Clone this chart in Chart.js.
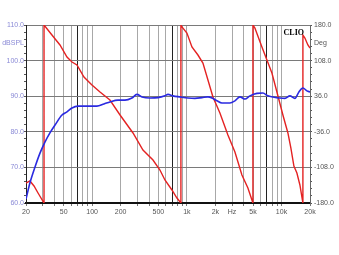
<!DOCTYPE html>
<html>
<head>
<meta charset="utf-8">
<script src="https://cdn.jsdelivr.net/npm/chart.js@4/dist/chart.umd.min.js"></script>
<style>
  html, body { margin: 0; padding: 0; background: #fff; }
  canvas { display: block; }
</style>
</head>
<body>
<canvas id="clio" width="339" height="255"></canvas>
<script>
// magnitude (blue, dBSPL, left axis)
const magFreq = [20, 22, 24.9, 28.1, 31.7, 35.8, 40.5, 48, 54.2, 61.2,
    70.8, 94.8, 112, 133, 154, 187, 222, 263, 297, 336,
    408, 495, 587, 632, 713, 846, 1027, 1218, 1444, 1671,
    1841, 2080, 2348, 2853, 3221, 3638, 4108, 4638, 5498, 6364,
    7186, 8114, 9622, 10866, 12270, 13854, 15268, 16828, 18552, 20000];
const magDb = [61.1, 65.6, 70.1, 74.0, 77.1, 79.7, 81.9, 84.7, 85.6, 86.7,
    87.2, 87.2, 87.2, 87.8, 88.4, 88.9, 88.9, 89.5, 90.5, 89.8,
    89.5, 89.6, 90.1, 90.5, 90.1, 89.8, 89.5, 89.4, 89.6, 89.8,
    89.5, 88.7, 88.1, 88.1, 88.7, 89.8, 89.2, 90.1, 90.8, 90.9,
    90.1, 89.8, 89.5, 89.4, 90.1, 89.4, 91.2, 92.3, 91.5, 91.2];

// phase (red, Deg, right axis) - wrapped, so repeated freqs make the vertical jumps
const phaseFreq = [20, 22, 24.3, 26.8, 31, 31, 37.6, 45.7, 54.2, 61.2,
    69.1, 81.9, 99.5, 121, 154, 197, 270, 344, 439, 520,
    587, 696, 786, 866, 866, 888, 1002, 1132, 1310, 1479,
    1671, 1887, 2236, 2716, 3221, 3818, 4418, 4990, 4990, 5238,
    6212, 7014, 7920, 8944, 10346, 11686, 12568, 13520, 14544, 15646,
    16828, 16828, 17668, 19000, 20000];
const phaseDeg = [-139.6, -135.5, -145.6, -159.8, -180, 180, 159.8, 139.6, 115.3, 105.2,
    99.1, 74.8, 58.6, 44.5, 28.3, -2, -38.4, -72.8, -93, -113.3,
    -133.5, -153.7, -169.9, -180, 180, 176, 163.8, 135.5, 119.3, 103.1,
    68.8, 34.4, 2, -42.5, -76.9, -123.4, -149.7, -180, 180, 173.9,
    135.5, 109.2, 82.9, 44.5, -2, -38.4, -68.8, -105.2, -119.3, -143.6,
    -180, 159.8, 153.7, 139.6, 133.5];

// axes
const freqGrid = [20, 30, 40, 50, 60, 70, 80, 90, 100, 200, 300, 400, 500, 600, 700, 800, 900,
    1000, 2000, 3000, 4000, 5000, 6000, 7000, 8000, 9000, 10000, 20000];
const freqLabels = { 20: '20', 50: '50', 100: '100', 200: '200', 500: '500', 1000: '1k',
    2000: '2k', 3000: 'Hz', 5000: '5k', 10000: '10k', 20000: '20k' };
const darkFreqLines = [70, 700, 7000];
const dbMajor = [60, 70, 80, 90, 100, 110];
const dbUnitAt = 105;      // where "dBSPL" sits
const degMajor = [-180, -108, -36, 36, 108, 180];
const degUnitAt = 144;     // where "Deg" sits

const magPts = magFreq.map((f, i) => ({ x: f, y: magDb[i] }));
const phasePts = phaseFreq.map((f, i) => ({ x: f, y: phaseDeg[i] }));

// minor tick marks on the two value axes
const dbTicks = [];
for (let v = 60; v <= 110; v += 2) dbTicks.push(v);
dbTicks.push(dbUnitAt);
const degTicks = [];
for (let k = 0; k <= 25; k++) degTicks.push(Math.round((-180 + k * 14.4) * 10) / 10);
degTicks.push(degUnitAt);

const clioMark = {
    id: 'clioMark',
    afterDraw(chart) {
        const c = chart.ctx;
        c.save();
        c.font = 'bold 8px "Liberation Serif"';
        c.fillStyle = '#000';
        c.textAlign = 'right';
        c.textBaseline = 'middle';
        c.fillText('CLIO', chart.chartArea.right - 6, 33);
        c.restore();
    }
};

const tickFont = { family: 'Liberation Sans', size: 7 };

new Chart(document.getElementById('clio').getContext('2d'), {
    type: 'line',
    data: {
        datasets: [
            {
                data: magPts,
                yAxisID: 'y',
                borderColor: '#2a2ae0',
                borderWidth: 1.6,
                pointRadius: 0,
                cubicInterpolationMode: 'monotone'
            },
            {
                data: phasePts,
                yAxisID: 'y1',
                borderColor: '#e42222',
                borderWidth: 1.4,
                pointRadius: 0,
                tension: 0
            }
        ]
    },
    options: {
        responsive: false,
        animation: false,
        layout: { padding: { top: 25, left: 0, right: 0, bottom: 0 } },
        plugins: { legend: { display: false }, tooltip: { enabled: false } },
        scales: {
            x: {
                type: 'logarithmic',
                min: 20,
                max: 20000,
                afterBuildTicks: s => { s.ticks = freqGrid.map(v => ({ value: v })); },
                afterFit: s => { s.height = 52; },
                ticks: {
                    autoSkip: false,
                    maxRotation: 0,
                    padding: 2,
                    color: '#555',
                    font: tickFont,
                    callback: v => freqLabels[v] || ''
                },
                grid: {
                    color: ctx => darkFreqLines.includes(ctx.tick && ctx.tick.value) ? '#222' : '#a8a8a8',
                    tickColor: '#777',
                    tickLength: 3,
                    lineWidth: 1
                },
                border: { color: '#111', width: 2 }
            },
            y: {
                position: 'left',
                min: 60,
                max: 110,
                afterBuildTicks: s => { s.ticks = dbTicks.slice().sort((a, b) => a - b).map(v => ({ value: v })); },
                afterFit: s => { s.width = 26; },
                ticks: {
                    autoSkip: false,
                    padding: 0,
                    color: '#8a8ad6',
                    font: tickFont,
                    callback: v => dbMajor.includes(v) ? v.toFixed(1) : (v === dbUnitAt ? 'dBSPL' : '')
                },
                grid: {
                    color: ctx => {
                        const v = ctx.tick && ctx.tick.value;
                        if (v === 60) return '#111';
                        return dbMajor.includes(v) ? '#7a7a7a' : 'rgba(0,0,0,0)';
                    },
                    tickColor: ctx => (ctx.tick && ctx.tick.value === dbUnitAt) ? 'rgba(0,0,0,0)' : '#555',
                    tickLength: 2,
                    lineWidth: 1
                },
                border: { color: '#222', width: 1 }
            },
            y1: {
                position: 'right',
                min: -180,
                max: 180,
                afterBuildTicks: s => { s.ticks = degTicks.slice().sort((a, b) => a - b).map(v => ({ value: v })); },
                afterFit: s => { s.width = 29; },
                ticks: {
                    autoSkip: false,
                    padding: 2,
                    color: '#555',
                    font: tickFont,
                    callback: v => degMajor.includes(v) ? v.toFixed(1) : (v === degUnitAt ? 'Deg' : '')
                },
                grid: {
                    drawOnChartArea: false,
                    tickColor: ctx => (ctx.tick && ctx.tick.value === degUnitAt) ? 'rgba(0,0,0,0)' : '#555',
                    tickLength: 2
                },
                border: { color: '#666', width: 1 }
            }
        }
    },
    plugins: [clioMark]
});
</script>
</body>
</html>
